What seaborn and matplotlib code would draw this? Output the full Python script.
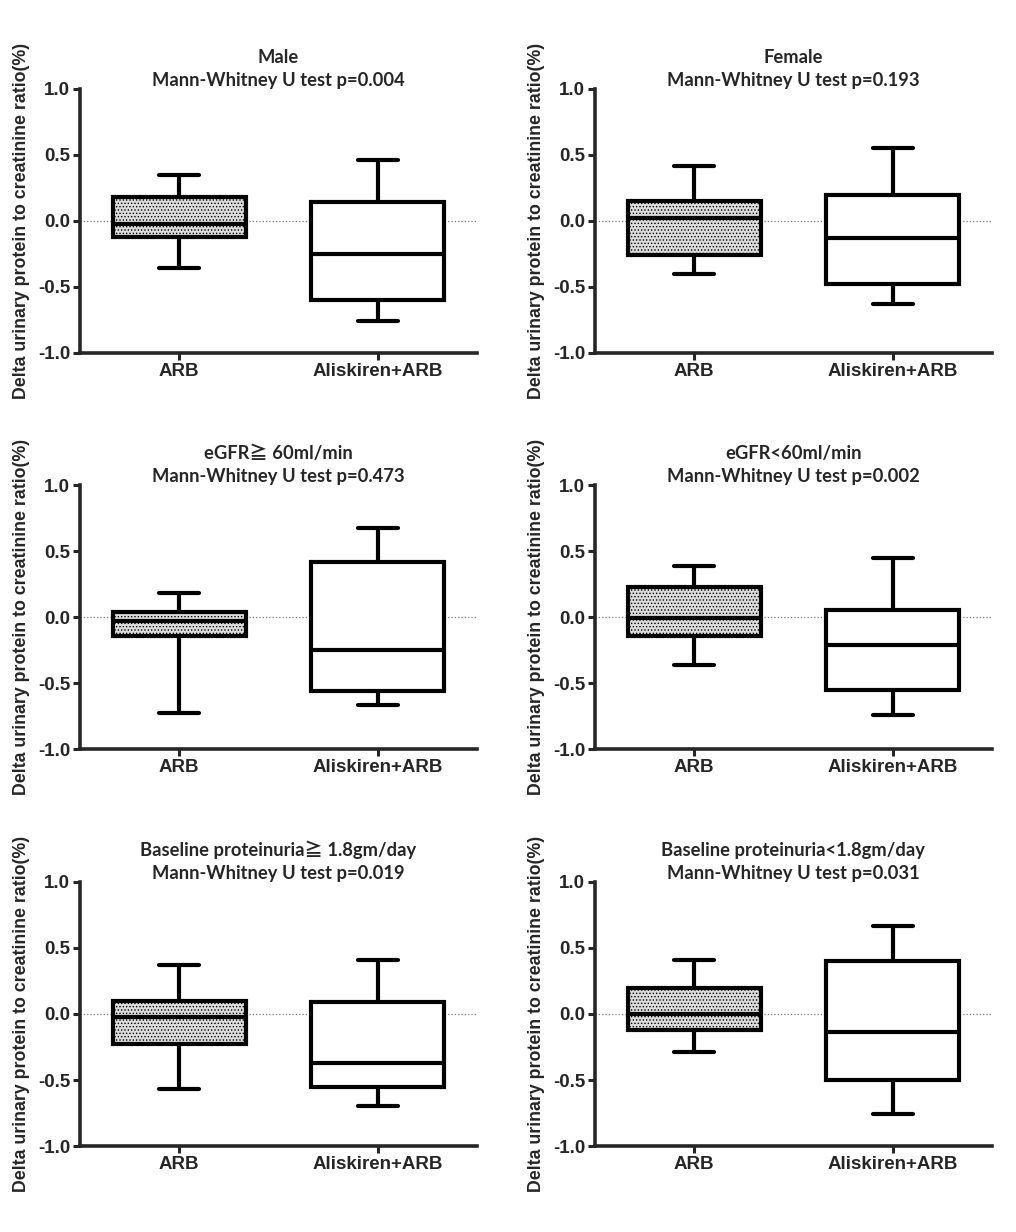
import pandas as pd
import seaborn as sns
import matplotlib
matplotlib.use("Agg")
import matplotlib.pyplot as plt

# five-number summaries: [min, q1, median, q3, max]
groups = ["ARB", "Aliskiren+ARB"]
titles = [
    "Male\nMann-Whitney U test p=0.004",
    "Female\nMann-Whitney U test p=0.193",
    "eGFR\u2267 60ml/min\nMann-Whitney U test p=0.473",
    "eGFR<60ml/min\nMann-Whitney U test p=0.002",
    "Baseline proteinuria\u2267 1.8gm/day\nMann-Whitney U test p=0.019",
    "Baseline proteinuria<1.8gm/day\nMann-Whitney U test p=0.031",
]
arb_five = [
    [-0.36, -0.12, -0.02, 0.18, 0.35],
    [-0.40, -0.26, 0.02, 0.15, 0.42],
    [-0.73, -0.14, -0.03, 0.04, 0.18],
    [-0.36, -0.14, -0.01, 0.23, 0.39],
    [-0.565, -0.225, -0.02, 0.10, 0.37],
    [-0.285, -0.12, 0.00, 0.20, 0.41],
]
alis_five = [
    [-0.76, -0.60, -0.25, 0.14, 0.46],
    [-0.63, -0.48, -0.13, 0.195, 0.55],
    [-0.67, -0.56, -0.25, 0.42, 0.675],
    [-0.74, -0.555, -0.21, 0.05, 0.45],
    [-0.70, -0.555, -0.37, 0.09, 0.41],
    [-0.755, -0.50, -0.135, 0.405, 0.67],
]
ylabel = "Delta urinary protein to creatinine ratio(%)"

sns.set_style("ticks")
plt.rcParams["font.family"] = ["Liberation Sans", "DejaVu Sans"]
plt.rcParams["font.weight"] = "bold"
plt.rcParams["hatch.color"] = "#7a7a7a"
plt.rcParams["hatch.linewidth"] = 0.6

fig = plt.figure(figsize=(10.16, 12.32), dpi=100)

lefts = [0.0787, 0.5856]
bottoms = [0.7135, 0.392, 0.0698]
w, h = 0.3907, 0.2143

for i in range(6):
    row, col = divmod(i, 2)
    ax = fig.add_axes([lefts[col], bottoms[row], w, h])
    df = pd.DataFrame({
        "group": [groups[0]] * 5 + [groups[1]] * 5,
        "value": arb_five[i] + alis_five[i],
    })
    ax.axhline(0, color="#777777", ls=":", lw=0.9, zorder=0)
    sns.boxplot(data=df, x="group", y="value", hue="group",
                palette=["#dcdcdc", "white"], legend=False,
                width=0.67, whis=(0, 100), linewidth=3, linecolor="black",
                capwidths=0.2, ax=ax)
    if len(ax.patches):
        ax.patches[0].set_hatch(".....")
    ax.set_xlim(-0.5, 1.5)
    ax.set_ylim(-1.0, 1.0)
    ax.set_yticks([-1.0, -0.5, 0.0, 0.5, 1.0])
    ax.set_yticklabels(["-1.0", "-0.5", "0.0", "0.5", "1.0"])
    ax.set_xlabel("")
    ax.set_ylabel(ylabel, fontsize=12.8, fontweight="bold", labelpad=6)
    ax.tick_params(axis="both", width=2.2, length=5, labelsize=13.5, pad=2)
    for lab in ax.get_xticklabels() + ax.get_yticklabels():
        lab.set_fontweight("bold")
    for s in ["left", "bottom"]:
        ax.spines[s].set_linewidth(2.6)
    sns.despine(ax=ax)
    ax.set_title(titles[i], fontsize=13.2, fontweight="bold",
                 family=["Lato", "Noto Sans CJK TC", "DejaVu Sans"],
                 pad=0, linespacing=1.4)

fig.savefig("out.png", dpi=100)
